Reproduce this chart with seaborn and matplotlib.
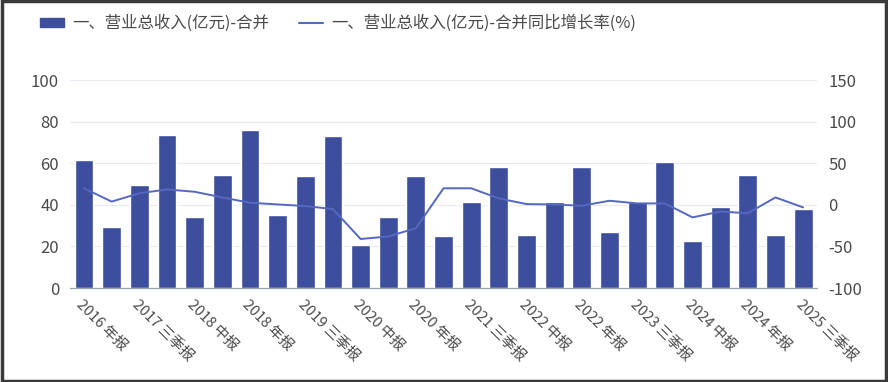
import numpy as np
import matplotlib
matplotlib.use("Agg")
import matplotlib.pyplot as plt
import seaborn as sns
from matplotlib.patches import Rectangle
from matplotlib.lines import Line2D

sns.set_style("white")
plt.rcParams['font.family'] = ['Noto Sans CJK SC', 'DejaVu Sans']
plt.rcParams['axes.unicode_minus'] = False

#----------------------------------------------------------------------
# data
#----------------------------------------------------------------------
periods = ['2016年报', '2017中报', '2017三季报', '2017年报',
           '2018中报', '2018三季报', '2018年报',
           '2019中报', '2019三季报', '2019年报',
           '2020中报', '2020三季报', '2020年报',
           '2021中报', '2021三季报', '2021年报',
           '2022中报', '2022三季报', '2022年报',
           '2023中报', '2023三季报', '2023年报',
           '2024中报', '2024三季报', '2024年报',
           '2025中报', '2025三季报']
revenue = [61.5, 29.5, 49.5, 73.6, 34.3, 54.6, 76.0, 35.0, 54.0, 73.2,
           20.5, 34.0, 53.7, 25.0, 41.2, 58.3, 25.5, 41.5, 58.3, 27.0,
           41.5, 60.7, 22.8, 38.8, 54.3, 25.5, 37.8]
growth = [20, 4, 14, 18.6, 15.8, 9, 2.6, 0.6, -1.4, -5,
          -41, -38, -28, 20, 20, 7.8, 1, 0.5, -1, 5,
          1.8, 1.8, -15, -8, -10, 9, -3]

bar_label = '一、营业总收入(亿元)-合并'
line_label = '一、营业总收入(亿元)-合并同比增长率(%)'
tick_labels = [p[:4] + ' ' + p[4:] for p in periods[::2]]

bar_color = '#3d4e9c'
line_color = '#5468bf'
txt_color = '#4a4a4a'

#----------------------------------------------------------------------
# plot
#----------------------------------------------------------------------
fig = plt.figure(figsize=(8.88, 3.82), dpi=100)
ax1 = fig.add_axes([0.079, 0.246, 0.841, 0.544])
idx = np.arange(len(periods))

sns.barplot(x=idx, y=revenue, color=bar_color, width=0.68,
            saturation=1, ax=ax1, native_scale=True)
ax1.set_xlim(-0.5, len(periods) - 0.5)
ax1.set_ylim(0, 100)
ax1.set_yticks([0, 20, 40, 60, 80, 100])
ax1.grid(axis='y', color='#e8ecf2', lw=0.8)
ax1.set_axisbelow(True)

ax2 = ax1.twinx()
sns.lineplot(x=idx, y=growth, color=line_color, lw=1.4, ax=ax2)
ax2.set_ylim(-100, 150)
ax2.set_yticks([-100, -50, 0, 50, 100, 150])

ax1.set_xticks(idx[::2])
ax1.set_xticklabels(tick_labels, rotation=-45, ha='left', va='top',
                    rotation_mode='anchor', fontsize=10.5, color=txt_color)

for ax in (ax1, ax2):
    for s in ['top', 'left', 'right']:
        ax.spines[s].set_visible(False)
    ax.spines['bottom'].set_color('#9aa3b5')
    ax.tick_params(axis='y', length=0, labelsize=12, colors=txt_color, pad=8)
ax1.tick_params(axis='x', length=4, color='#9aa3b5', pad=3)
ax1.set_xlabel('')
ax1.set_ylabel('')
ax2.set_ylabel('')

# legend
handles = [Rectangle((0, 0), 1, 1, color=bar_color),
           Line2D([0], [0], color=line_color, lw=1.5)]
fig.legend(handles, [bar_label, line_label], loc='upper left',
           bbox_to_anchor=(0.028, 1.0), ncol=2, frameon=False,
           fontsize=11.8, labelcolor=txt_color, handlelength=1.5,
           handleheight=0.5, handletextpad=0.5, columnspacing=1.8)

# image border
fig.patches.append(Rectangle((0.002, 0.003), 0.996, 0.994, fill=False,
                             ec='#3a3a3a', lw=2.5, transform=fig.transFigure))

plt.savefig("out.png", dpi=100)
